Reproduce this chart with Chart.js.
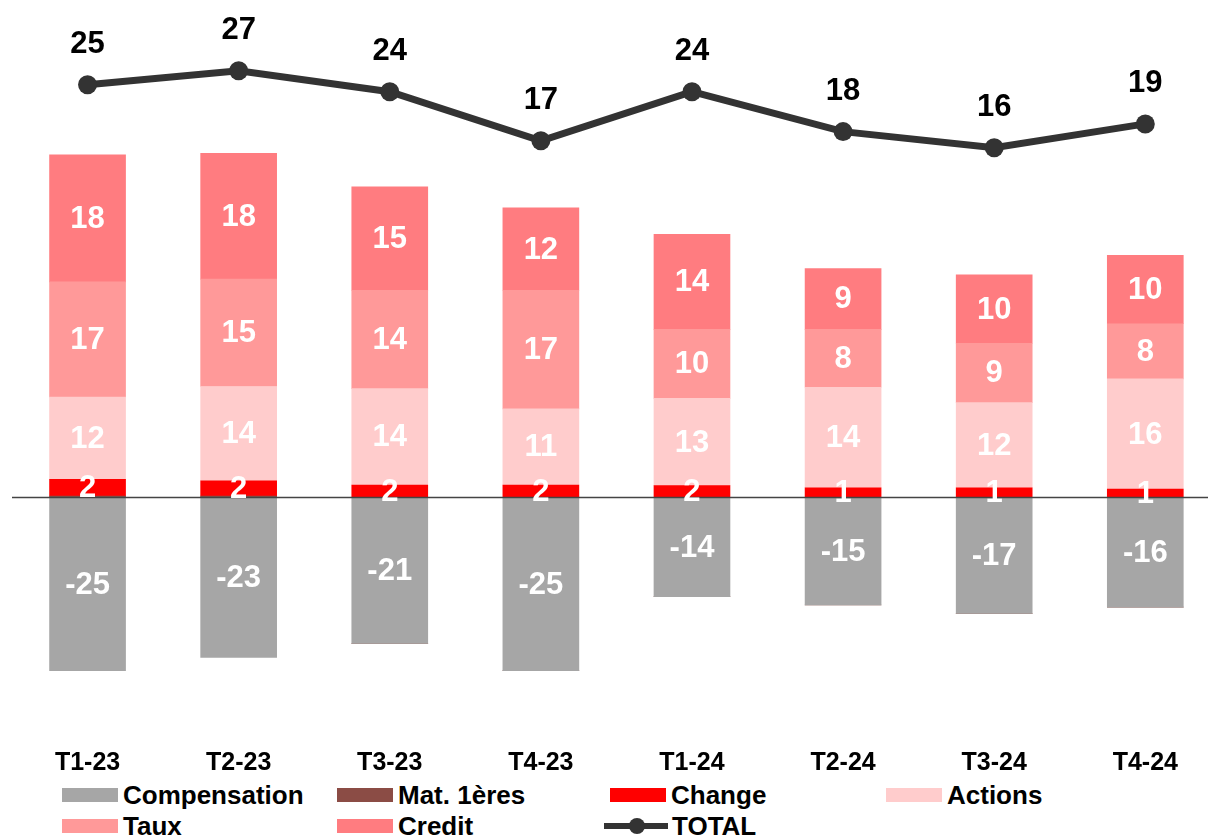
<!DOCTYPE html>
<html>
<head>
<meta charset="utf-8">
<script src="https://cdn.jsdelivr.net/npm/chart.js@4/dist/chart.umd.min.js"></script>
<style>
  body { margin: 0; background: #fff; font-family: "Liberation Sans", Arial, sans-serif; }
  #wrap { position: relative; width: 1208px; height: 838px; }
  #box { position: absolute; left: 0; top: 0; width: 1208px; height: 779px; }
  .lg { position: absolute; display: flex; align-items: center; font-weight: bold; font-size: 26px; color: #000; line-height: 1; }
  .sw { width: 56px; height: 14px; margin-right: 5px; }
  .ln { width: 64px; height: 20px; margin-right: 4px; position: relative; }
  .ln:before { content: ""; position: absolute; left: 0; right: 0; top: 7px; height: 6px; background: #333; }
  .ln:after { content: ""; position: absolute; left: 25px; top: 2px; width: 16px; height: 16px; border-radius: 50%; background: #333; }
</style>
</head>
<body>
<div id="wrap">
  <div id="box"><canvas id="chart"></canvas></div>
  <div id="legend"></div>
</div>
<script>
const quarters = ['T1-23', 'T2-23', 'T3-23', 'T4-23', 'T1-24', 'T2-24', 'T3-24', 'T4-24'];

const compensation = [-24.8, -22.9, -20.9, -24.8, -14.2, -15.4, -16.6, -15.7];
const matieres     = [0.2, 0.2, 0, 0, 0, 0, 0, 0];
const change       = [2.4, 2.2, 1.8, 1.8, 1.7, 1.4, 1.4, 1.2];
const actions      = [11.8, 13.5, 13.8, 10.9, 12.5, 14.4, 12.2, 15.8];
const taux         = [16.5, 15.4, 14.1, 17.0, 9.9, 8.3, 8.5, 7.9];
const credit       = [18.2, 18.0, 14.8, 11.8, 13.6, 8.7, 9.8, 9.8];
const total        = [25, 27, 24, 17, 24, 18.3, 16, 19.4];

const colors = {
  Compensation: '#a6a6a6',
  'Mat. 1ères': '#8b4c45',
  Change: '#ff0000',
  Actions: '#ffcccc',
  Taux: '#ff9999',
  Credit: '#ff7c80',
  TOTAL: '#333333'
};

const pts = arr => arr.map((v, i) => ({ x: i, y: v }));

function bar(label, values) {
  return {
    type: 'bar',
    label: label,
    data: pts(values),
    backgroundColor: colors[label],
    borderWidth: 0,
    barThickness: 76,
    yAxisID: 'y',
    order: 2
  };
}

const datasets = [
  bar('Compensation', compensation),
  bar('Mat. 1ères', matieres),
  bar('Change', change),
  bar('Actions', actions),
  bar('Taux', taux),
  bar('Credit', credit),
  {
    type: 'line',
    label: 'TOTAL',
    data: pts(total),
    borderColor: colors.TOTAL,
    backgroundColor: colors.TOTAL,
    borderWidth: 7,
    pointRadius: 9.5,
    pointBackgroundColor: colors.TOTAL,
    pointBorderWidth: 0,
    yAxisID: 'y2',
    order: 1
  }
];

// zero line, drawn over the bars
const zeroLine = {
  id: 'zeroLine',
  afterDatasetsDraw(chart) {
    const y = chart.scales.y.getPixelForValue(0);
    const ctx = chart.ctx;
    ctx.save();
    ctx.strokeStyle = '#444';
    ctx.lineWidth = 1.5;
    ctx.beginPath();
    ctx.moveTo(chart.chartArea.left, y);
    ctx.lineTo(chart.width, y);
    ctx.stroke();
    ctx.restore();
  }
};

const valueLabels = {
  id: 'valueLabels',
  afterDraw(chart) {
    const ctx = chart.ctx;
    ctx.save();
    ctx.textAlign = 'center';
    ctx.textBaseline = 'middle';
    ctx.font = 'bold 31px "Liberation Sans", Arial, sans-serif';
    chart.data.datasets.forEach((ds, di) => {
      const meta = chart.getDatasetMeta(di);
      if (ds.label === 'Mat. 1ères') return;
      meta.data.forEach((el, i) => {
        const v = ds.data[i].y;
        const txt = String(Math.round(v));
        if (ds.type === 'line') {
          ctx.fillStyle = '#000';
          ctx.fillText(txt, el.x, el.y - 40);
        } else {
          if (Math.round(v) === 0) return;
          ctx.fillStyle = '#fff';
          ctx.fillText(txt, el.x, (el.y + el.base) / 2 + 1);
        }
      });
    });
    ctx.restore();
  }
};

new Chart(document.getElementById('chart'), {
  data: { datasets: datasets },
  options: {
    responsive: true,
    maintainAspectRatio: false,
    animation: false,
    layout: { autoPadding: false, padding: { left: 12, right: 0, top: 0, bottom: 0 } },
    plugins: {
      legend: { display: false },
      tooltip: { enabled: false }
    },
    scales: {
      x: {
        type: 'linear',
        offset: false,
        bounds: 'data',
        stacked: true,
        min: -0.5,
        max: 7.415,
        afterBuildTicks: s => { s.ticks = quarters.map((_, i) => ({ value: i })); },
        afterFit: s => { s.height = 39; },
        grid: { display: false, drawTicks: false },
        border: { display: false },
        ticks: {
          padding: 8,
          autoSkip: false,
          maxRotation: 0,
          minRotation: 0,
          color: '#000',
          font: { family: '"Liberation Sans", Arial, sans-serif', size: 25, weight: 'bold' },
          callback: v => quarters[v]
        }
      },
      y: {
        stacked: true,
        display: false,
        min: -34.74,
        max: 71.28
      },
      y2: {
        display: false,
        min: -68.6,
        max: 37.1
      }
    }
  },
  plugins: [zeroLine, valueLabels]
});

// legend
const legendItems = [
  { label: 'Compensation', left: 62, top: 795 },
  { label: 'Mat. 1ères', left: 337, top: 795 },
  { label: 'Change', left: 610, top: 795 },
  { label: 'Actions', left: 886, top: 795 },
  { label: 'Taux', left: 62, top: 826 },
  { label: 'Credit', left: 337, top: 826 },
  { label: 'TOTAL', left: 604, top: 826, line: true }
];
const lg = document.getElementById('legend');
legendItems.forEach(it => {
  const d = document.createElement('div');
  d.className = 'lg';
  d.style.left = it.left + 'px';
  d.style.top = (it.top - 13) + 'px';
  d.style.height = '26px';
  const s = document.createElement('span');
  if (it.line) {
    s.className = 'ln';
  } else {
    s.className = 'sw';
    s.style.background = colors[it.label];
  }
  d.appendChild(s);
  const t = document.createElement('span');
  t.textContent = it.label;
  d.appendChild(t);
  lg.appendChild(d);
});
</script>
</body>
</html>
